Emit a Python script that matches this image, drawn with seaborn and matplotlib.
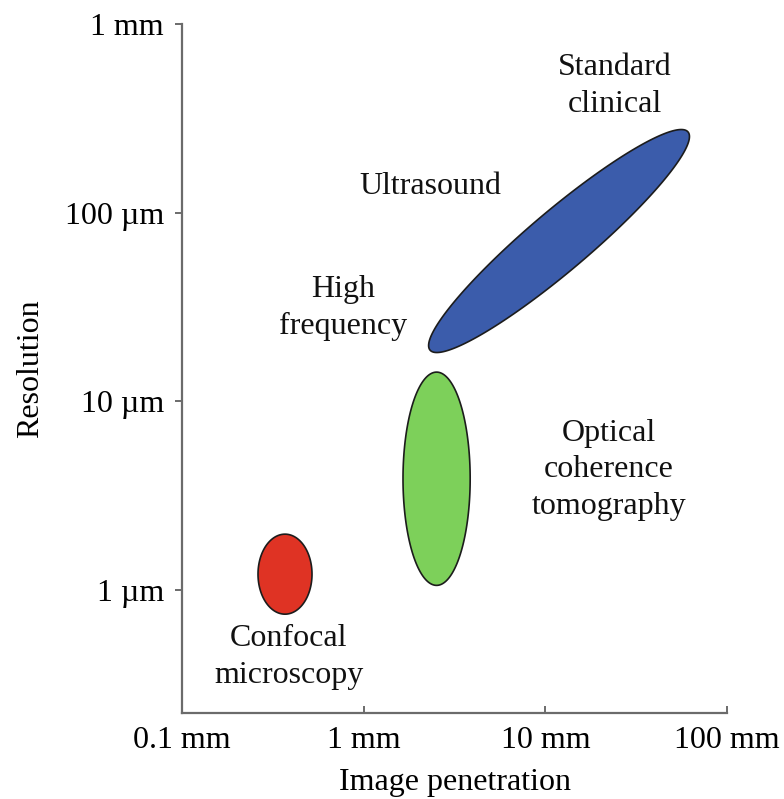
import numpy as np
import pandas as pd
import matplotlib
matplotlib.use("Agg")
import matplotlib.pyplot as plt
import seaborn as sns

# ---------------- data ----------------
x_ticks = [0.1, 1, 10, 100]                      # mm
x_tick_labels = ["0.1 mm", "1 mm", "10 mm", "100 mm"]
y_ticks = [1, 10, 100, 1000]                     # µm
y_tick_labels = ["1 µm", "10 µm", "100 µm", "1 mm"]

techniques = ["Confocal microscopy", "Optical coherence tomography", "Ultrasound"]
# major-axis tips of each region (penetration mm, resolution µm)
tip1_x = [0.369, 2.52, 2.32]
tip1_y = [0.746, 1.06, 18.7]
tip2_x = [0.369, 2.52, 61.0]
tip2_y = [1.98, 14.3, 268.0]
minor_ratio = [0.675, 0.315, 0.178]
colors = ["#DF3324", "#7DD05A", "#3B5CAB"]

label_texts = ["Standard\nclinical", "Ultrasound", "High\nfrequency",
               "Optical\ncoherence\ntomography", "Confocal\nmicroscopy"]
label_x = [24.2, 2.32, 0.77, 22.4, 0.388]
label_y = [470, 137, 31.3, 4.34, 0.442]

# ---------------- style ----------------
sns.set_theme(style="ticks")
plt.rcParams["font.family"] = ["Liberation Serif", "DejaVu Serif"]
gray = "#6b6b6b"

fig = plt.figure(figsize=(7.84, 7.99), dpi=100)
ax = fig.add_axes([182 / 784, 1 - 713 / 799, (727 - 182) / 784, (713 - 24) / 799])
ax.set_xscale("log")
ax.set_yscale("log")
ax.set_xlim(0.1, 100)
ax.set_ylim(10 ** -0.651, 1000)

sns.despine(ax=ax)
for s in ["left", "bottom"]:
    ax.spines[s].set_color(gray)
    ax.spines[s].set_linewidth(1.6)

ax.set_xticks(x_ticks)
ax.set_xticklabels(x_tick_labels)
ax.set_yticks(y_ticks)
ax.set_yticklabels(y_tick_labels)
ax.minorticks_off()
ax.tick_params(axis="x", direction="in", length=5, width=1.4, color=gray,
               labelsize=23, pad=9, labelcolor="black")
ax.tick_params(axis="y", direction="out", length=5, width=1.4, color=gray,
               labelsize=23, pad=8, labelcolor="black")

ax.set_xlabel("Image penetration", fontsize=23, labelpad=10, color="black")
ax.set_ylabel("Resolution", fontsize=23, labelpad=14, color="black")

# ---------------- ellipses ----------------
fig.canvas.draw()
t = np.linspace(0, 2 * np.pi, 400)
for i in range(len(techniques)):
    p1 = ax.transData.transform((tip1_x[i], tip1_y[i]))
    p2 = ax.transData.transform((tip2_x[i], tip2_y[i]))
    c = (p1 + p2) / 2
    d = p2 - p1
    a = np.hypot(*d) / 2
    b = a * minor_ratio[i]
    ang = np.arctan2(d[1], d[0])
    u = a * np.cos(t)
    v = b * np.sin(t)
    px = c[0] + u * np.cos(ang) - v * np.sin(ang)
    py = c[1] + u * np.sin(ang) + v * np.cos(ang)
    data = ax.transData.inverted().transform(np.column_stack([px, py]))
    df = pd.DataFrame({"x": data[:, 0], "y": data[:, 1]})
    ax.fill(df["x"], df["y"], facecolor=colors[i], edgecolor="#1c1c1c",
            linewidth=1.2, zorder=3)

# ---------------- labels ----------------
for txt, lx, ly in zip(label_texts, label_x, label_y):
    ax.text(lx, ly, txt, ha="center", va="center", fontsize=23,
            linespacing=1.33, color="#111111")

fig.savefig("out.png", dpi=100)
